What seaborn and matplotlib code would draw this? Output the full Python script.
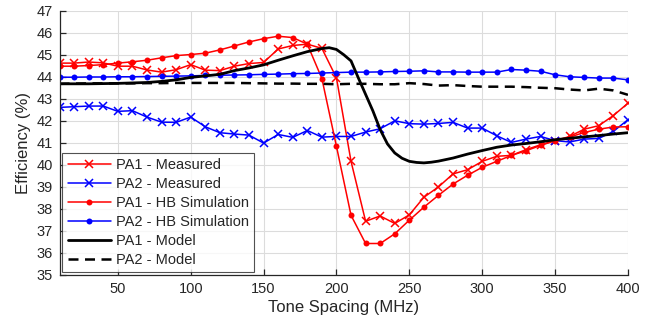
import numpy as np
import pandas as pd
import matplotlib
matplotlib.use("Agg")
import matplotlib.pyplot as plt
import seaborn as sns

# ---------------- data ----------------
freq = list(range(10, 401, 10))

pa1_measured = [44.62, 44.62, 44.67, 44.63, 44.48, 44.48, 44.31, 44.21, 44.32, 44.55,
                44.30, 44.28, 44.48, 44.60, 44.65, 45.26, 45.42, 45.48, 45.29, 43.95,
                40.16, 37.44, 37.68, 37.34, 37.73, 38.53, 39.00, 39.59, 39.78, 40.16,
                40.39, 40.43, 40.69, 40.91, 41.10, 41.29, 41.62, 41.78, 42.24, 42.80]

pa2_measured = [42.61, 42.64, 42.67, 42.67, 42.43, 42.46, 42.17, 41.94, 41.93, 42.17,
                41.73, 41.46, 41.40, 41.35, 40.99, 41.38, 41.25, 41.56, 41.26, 41.29,
                41.29, 41.49, 41.64, 42.00, 41.87, 41.85, 41.88, 41.93, 41.67, 41.67,
                41.32, 41.02, 41.17, 41.29, 41.10, 41.04, 41.17, 41.20, 41.52, 42.05]

pa1_hb = [44.48, 44.48, 44.51, 44.55, 44.62, 44.68, 44.75, 44.86, 44.96, 45.01,
          45.07, 45.22, 45.40, 45.58, 45.73, 45.84, 45.78, 45.48, 43.92, 40.84,
          37.71, 36.43, 36.43, 36.87, 37.49, 38.08, 38.62, 39.13, 39.53, 39.89,
          40.16, 40.43, 40.64, 40.88, 41.10, 41.26, 41.47, 41.62, 41.72, 41.73]

pa2_hb = [43.98, 43.98, 43.99, 43.99, 44.00, 44.00, 44.01, 44.02, 44.03, 44.04,
          44.06, 44.07, 44.08, 44.09, 44.11, 44.12, 44.14, 44.15, 44.17, 44.19,
          44.21, 44.21, 44.22, 44.24, 44.25, 44.27, 44.22, 44.22, 44.21, 44.21,
          44.21, 44.33, 44.30, 44.25, 44.09, 44.00, 43.97, 43.94, 43.94, 43.86]

model_freq = [10, 20, 30, 40, 50, 60, 70, 80, 90, 100, 110, 120, 130, 140, 150, 160,
              170, 180, 190, 195, 200, 205, 210, 215, 220, 225, 230, 235, 240, 245,
              250, 255, 260, 265, 270, 280, 290, 300, 310, 320, 330, 340, 350, 360,
              370, 380, 390, 400]
pa1_model = [43.68, 43.68, 43.68, 43.69, 43.70, 43.72, 43.74, 43.79, 43.86, 43.97,
             44.04, 44.11, 44.28, 44.40, 44.54, 44.75, 44.95, 45.14, 45.28, 45.32,
             45.24, 45.00, 44.72, 43.95, 43.20, 42.45, 41.60, 40.95, 40.54, 40.30,
             40.16, 40.11, 40.09, 40.12, 40.17, 40.31, 40.49, 40.65, 40.80, 40.90,
             40.97, 41.05, 41.14, 41.21, 41.27, 41.33, 41.40, 41.46]

pa2_model = [43.68, 43.69, 43.70, 43.70, 43.70, 43.70, 43.71, 43.71, 43.72, 43.72,
             43.72, 43.72, 43.72, 43.71, 43.70, 43.69, 43.69, 43.68, 43.68, 43.66,
             43.68, 43.68, 43.66, 43.66, 43.71, 43.67, 43.60, 43.62, 43.58, 43.55,
             43.55, 43.55, 43.53, 43.50, 43.48, 43.42, 43.38, 43.46, 43.38, 43.18]

x_ticks = [50, 100, 150, 200, 250, 300, 350, 400]
y_ticks = list(range(35, 48))

# ---------------- style ----------------
sns.set_style("white")
plt.rcParams["font.family"] = ["Liberation Sans", "DejaVu Sans"]
txt = "#262626"
red = "#ff0000"
blue = "#0000ff"

fig = plt.figure(figsize=(6.57, 3.32), dpi=100)
ax = fig.add_axes([0.0906, 0.1717, 0.8652, 0.7961])

lw = 1.1
sns.lineplot(x=freq, y=pa1_measured, ax=ax, color=red, lw=lw, marker="x",
             markersize=6, markeredgewidth=1.1, markeredgecolor=red,
             label="PA1 - Measured")
sns.lineplot(x=freq, y=pa2_measured, ax=ax, color=blue, lw=lw, marker="x",
             markersize=6, markeredgewidth=1.1, markeredgecolor=blue,
             label="PA2 - Measured")
sns.lineplot(x=freq, y=pa1_hb, ax=ax, color=red, lw=lw, marker="o",
             markersize=4.3, markeredgewidth=0, markerfacecolor=red,
             label="PA1 - HB Simulation")
sns.lineplot(x=freq, y=pa2_hb, ax=ax, color=blue, lw=lw, marker="o",
             markersize=4.3, markeredgewidth=0, markerfacecolor=blue,
             label="PA2 - HB Simulation")
sns.lineplot(x=model_freq, y=pa1_model, ax=ax, color="black", lw=2.0,
             label="PA1 - Model")
sns.lineplot(x=freq, y=pa2_model, ax=ax, color="black", lw=1.8,
             label="PA2 - Model")
ax.lines[-1].set_dashes((4, 2.6))

ax.set_xlim(10, 400)
ax.set_ylim(35, 47)
ax.set_xticks(x_ticks)
ax.set_yticks(y_ticks)
ax.grid(True, color="#dcdcdc", lw=0.8)
ax.set_axisbelow(True)

for s in ["top", "right"]:
    ax.spines[s].set_visible(False)
for s in ["left", "bottom"]:
    ax.spines[s].set_color(txt)
    ax.spines[s].set_linewidth(0.9)

ax.tick_params(axis="both", direction="in", length=4.5, width=0.9, color=txt,
               labelsize=10.5, labelcolor=txt, pad=5, bottom=True, left=True)
ax.set_xlabel("Tone Spacing (MHz)", fontsize=12, color=txt, labelpad=3)
ax.set_ylabel("Efficiency (%)", fontsize=12, color=txt, labelpad=4)

leg = ax.legend(loc="lower left", fontsize=10.5, frameon=True, fancybox=False,
                handlelength=3.0, handletextpad=0.3, borderaxespad=0.2,
                labelspacing=0.34, borderpad=0.35)
leg.get_frame().set_edgecolor(txt)
leg.get_frame().set_linewidth(0.8)
for t in leg.get_texts():
    t.set_color(txt)

fig.savefig("out.png", dpi=100)
